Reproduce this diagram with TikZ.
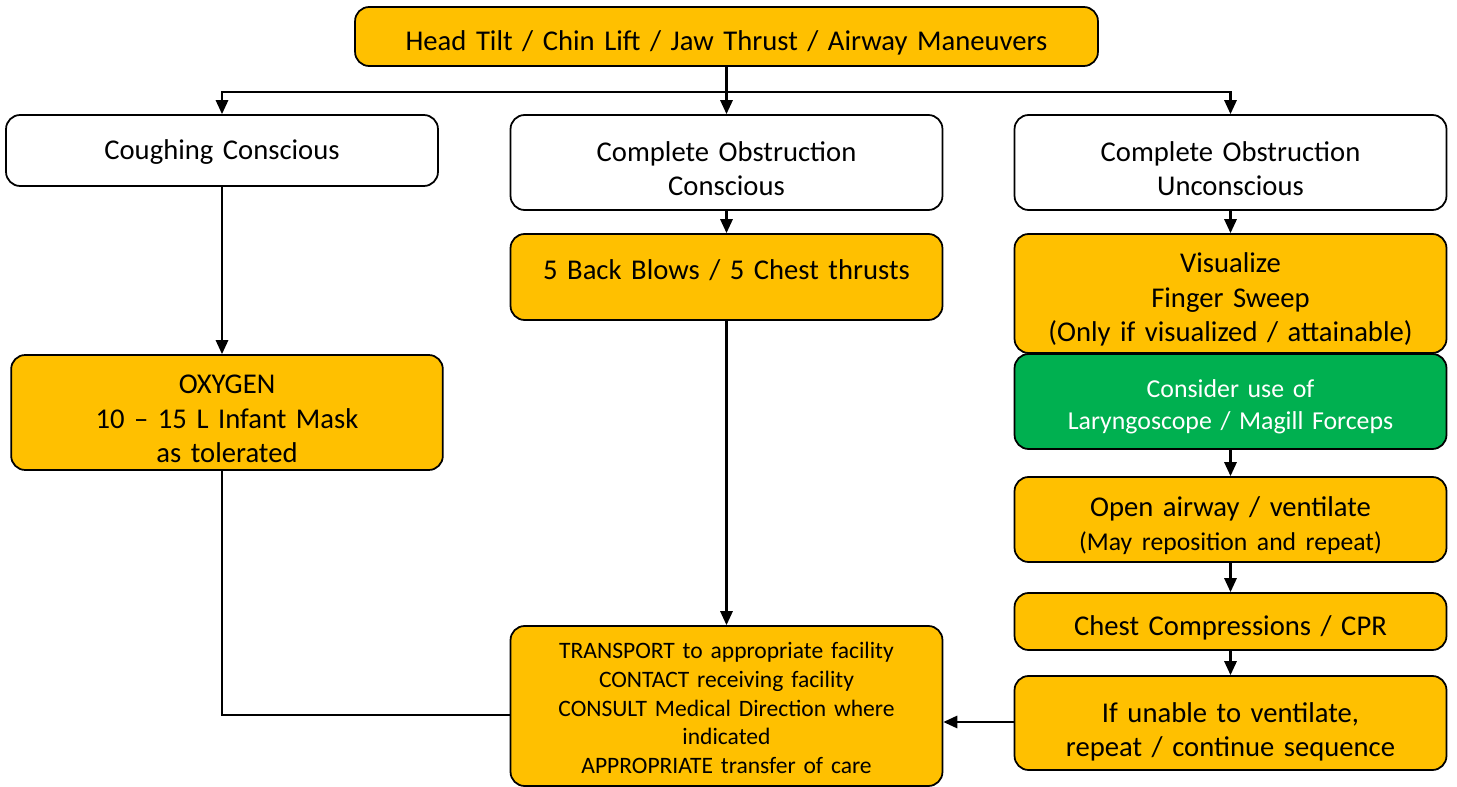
\documentclass[tikz,border=0pt]{standalone}
\usepackage{fontspec}
\setmainfont{Carlito}
\usepackage{xcolor}
\usetikzlibrary{arrows.meta, positioning, calc}
\definecolor{amber}{HTML}{FFC000}
\definecolor{leaf}{HTML}{00B050}
\tikzset{
    toplift/.store in=\toplift, toplift=18pt,
    obox/.style={rectangle, rounded corners=8pt, draw=black, line width=1pt,
                 fill=amber, text width=8.4cm, align=center,
                 minimum width=8.64cm, font=\fontsize{16.3}{19.5}\selectfont,
                 execute at begin node={\rule{0pt}{\toplift}}},
    wbox/.style={obox, fill=white},
    gbox/.style={obox, fill=leaf, text=white, font=\fontsize{14.7}{18.2}\selectfont,
                 toplift=16.6pt},
    arr/.style={-{Triangle[width=7pt,length=8pt]}, line width=1.3pt, draw=black},
    line/.style={line width=1.3pt, draw=black}
}
\begin{document}
\begin{tikzpicture}[x=0.02cm, y=-0.02cm]
\useasboundingbox (0,0) rectangle (1457,787);
\node[obox, minimum width=14.86cm, text width=14.5cm, minimum height=1.18cm] at (726.5,36.5) (top)
     {Head Tilt / Chin Lift / Jaw Thrust / Airway Maneuvers};
\node[wbox, minimum height=1.42cm, toplift=13.5pt] at (222,150.5) (cough) {Coughing Conscious};
\node[wbox, minimum height=1.9cm]  at (726.5,162.5) (compc) {Complete Obstruction\\Conscious};
\node[wbox, minimum height=1.9cm]  at (1230.5,162.5)(compu) {Complete Obstruction\\Unconscious};
\node[obox, minimum height=1.72cm, toplift=0pt, text depth=9pt] at (726.5,277) (blows)
     {5 Back Blows / 5 Chest thrusts};
\node[obox, minimum width=8.56cm, minimum height=2.3cm] at (227,412.5) (oxygen)
     {OXYGEN\\10 -- 15 L Infant Mask\\as tolerated};
\node[obox, minimum height=2.38cm] at (1230.5,293.5) (sweep)
     {Visualize\\Finger Sweep\\(Only if visualized / attainable)};
\node[gbox, minimum height=1.9cm]  at (1230.5,401.5) (scope)
     {Consider use of\\Laryngoscope / Magill Forceps};
\node[obox, minimum height=1.7cm]  at (1230.5,519.5) (airway)
     {Open airway / ventilate\\{\fontsize{14.6}{17}\selectfont (May reposition and repeat)}};
\node[obox, minimum height=1.14cm] at (1230.5,621.5) (cpr)   {Chest Compressions / CPR};
\node[obox, minimum height=1.88cm, toplift=21pt] at (1230.5,723) (unable)
     {If unable to ventilate,\\repeat / continue sequence};
\node[obox, minimum height=3.2cm, font=\fontsize{13.4}{16.4}\selectfont, toplift=11.5pt]
     at (726.5,706) (transport)
     {TRANSPORT to appropriate facility\\CONTACT receiving facility\\CONSULT Medical Direction where\\indicated\\APPROPRIATE transfer of care};

% branches
\coordinate (split) at (726.5,92);
\draw[arr]  (top)   -- (compc);
\draw[arr]  (split) -| (cough.north);
\draw[arr]  (split) -| (compu.north);

\draw[arr]  (cough.south) -- (cough.south |- oxygen.north);
\draw[arr]  (compc) -- (blows);
\draw[arr]  (blows) -- (transport);
\draw[arr]  (compu) -- (sweep);
\draw[arr]  (scope) -- (airway);
\draw[arr]  (airway) -- (cpr);
\draw[arr]  (cpr)   -- (unable);
\draw[arr]  (unable.west |- 0,722) -- (transport.east |- 0,722);
\draw[line] (cough.south |- oxygen.south) |- (transport.west |- 0,715);
\end{tikzpicture}
\end{document}
